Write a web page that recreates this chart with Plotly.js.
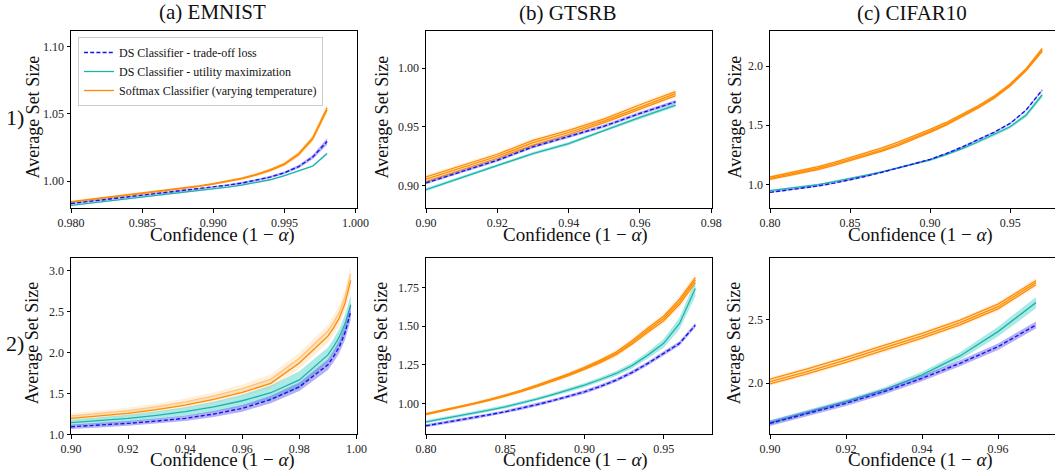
<!DOCTYPE html>
<html><head><meta charset="utf-8">
<script src="https://cdn.plot.ly/plotly-3.0.1.min.js"></script>
<style>html,body{margin:0;padding:0;background:#fff}</style>
</head><body><div id="chart" style="width:1055px;height:471px"></div>
<script>
// ---------- DATA ----------
const seriesNames = ["DS Classifier - trade-off loss", "DS Classifier - utility maximization", "Softmax Classifier (varying temperature)"];
const colTitles = ["(a) EMNIST", "(b) GTSRB", "(c) CIFAR10"];
const rowLabels = ["1)", "2)"];
const xLabel = "Confidence (1 − <i>α</i>)";
const yLabel = "Average Set Size";

// (a) EMNIST, row 1
const xA1 = [0.980,0.981,0.982,0.983,0.984,0.985,0.986,0.987,0.988,0.989,0.990,0.991,0.992,0.993,0.994,0.995,0.996,0.997,0.998];
const tlA1 = [0.9833,0.9845,0.9857,0.9869,0.9881,0.9893,0.9905,0.9918,0.9930,0.9942,0.9955,0.9970,0.9985,1.0005,1.0030,1.0062,1.0108,1.0180,1.0295];
const tlA1sd = [0.0006,0.0006,0.0006,0.0006,0.0006,0.0006,0.0006,0.0006,0.0007,0.0007,0.0007,0.0007,0.0008,0.0008,0.0009,0.0010,0.0012,0.0016,0.0024];
const umA1 = [0.9820,0.9832,0.9844,0.9856,0.9868,0.9880,0.9892,0.9904,0.9917,0.9930,0.9942,0.9955,0.9970,0.9988,1.0010,1.0040,1.0075,1.0112,1.0205];
const umA1sd = [0.0004,0.0004,0.0004,0.0004,0.0004,0.0004,0.0004,0.0004,0.0004,0.0004,0.0004,0.0005,0.0005,0.0005,0.0005,0.0006,0.0006,0.0007,0.0009];
const smA1a = [0.9848,0.9862,0.9875,0.9888,0.9900,0.9912,0.9925,0.9937,0.9950,0.9965,0.9982,1.0000,1.0022,1.0050,1.0085,1.0130,1.0205,1.0325,1.0545];
const smA1b = [0.9843,0.9857,0.9870,0.9883,0.9895,0.9907,0.9920,0.9932,0.9945,0.9960,0.9977,0.9994,1.0016,1.0044,1.0078,1.0122,1.0196,1.0314,1.0530];
const smA1sd = [0.0007,0.0007,0.0007,0.0007,0.0007,0.0007,0.0007,0.0007,0.0008,0.0008,0.0008,0.0009,0.0009,0.0010,0.0011,0.0013,0.0016,0.0021,0.0030];

// (b) GTSRB, row 1
const xB1 = [0.90,0.91,0.92,0.93,0.94,0.95,0.96,0.97];
const tlB1 = [0.9023,0.9118,0.9216,0.9330,0.9415,0.9506,0.9614,0.9713];
const tlB1sd = [0.0012,0.0012,0.0012,0.0013,0.0013,0.0013,0.0014,0.0015];
const umB1 = [0.8966,0.9070,0.9173,0.9273,0.9358,0.9472,0.9580,0.9685];
const umB1sd = [0.0013,0.0013,0.0013,0.0013,0.0014,0.0014,0.0015,0.0016];
const smB1a = [0.9074,0.9170,0.9267,0.9385,0.9470,0.9568,0.9688,0.9800];
const smB1b = [0.9055,0.9152,0.9250,0.9365,0.9452,0.9550,0.9668,0.9782];
const smB1c = [0.9036,0.9135,0.9233,0.9345,0.9435,0.9535,0.9650,0.9765];
const smB1sd = [0.0018,0.0018,0.0018,0.0018,0.0018,0.0018,0.0019,0.0020];

// (c) CIFAR10, row 1
const xC1 = [0.80,0.81,0.82,0.83,0.84,0.85,0.86,0.87,0.88,0.89,0.90,0.91,0.92,0.93,0.94,0.95,0.96,0.97];
const tlC1 = [0.932,0.948,0.966,0.986,1.010,1.037,1.068,1.102,1.138,1.174,1.211,1.260,1.315,1.378,1.440,1.515,1.628,1.797];
const tlC1sd = [0.006,0.006,0.006,0.006,0.006,0.006,0.006,0.006,0.006,0.006,0.006,0.006,0.007,0.007,0.007,0.007,0.008,0.009];
const umC1 = [0.946,0.962,0.978,0.998,1.022,1.048,1.076,1.106,1.140,1.172,1.206,1.252,1.302,1.360,1.420,1.487,1.586,1.755];
const umC1sd = [0.008,0.008,0.008,0.008,0.008,0.008,0.008,0.009,0.009,0.009,0.010,0.010,0.011,0.012,0.013,0.015,0.018,0.022];
const smC1a = [1.062,1.090,1.119,1.150,1.186,1.225,1.265,1.308,1.356,1.407,1.464,1.523,1.590,1.663,1.746,1.848,1.978,2.148];
const smC1b = [1.051,1.078,1.106,1.136,1.172,1.211,1.250,1.292,1.340,1.392,1.450,1.510,1.578,1.652,1.735,1.839,1.970,2.135];
const smC1c = [1.042,1.068,1.095,1.125,1.160,1.199,1.238,1.280,1.328,1.381,1.440,1.501,1.570,1.645,1.728,1.832,1.962,2.125];
const smC1sd = [0.010,0.010,0.010,0.010,0.010,0.010,0.010,0.011,0.011,0.011,0.011,0.012,0.012,0.012,0.013,0.013,0.014,0.015];

// (a) EMNIST, row 2
const xA2 = [0.90,0.91,0.92,0.93,0.94,0.95,0.96,0.97,0.98,0.99,0.992,0.994,0.996,0.998];
const tlA2 = [1.093,1.112,1.134,1.162,1.195,1.248,1.317,1.425,1.580,1.850,1.950,2.070,2.240,2.500];
const tlA2sd = [0.028,0.029,0.030,0.031,0.033,0.036,0.040,0.045,0.052,0.065,0.070,0.078,0.088,0.100];
const umA2 = [1.142,1.167,1.195,1.232,1.276,1.335,1.410,1.508,1.665,1.970,2.070,2.190,2.350,2.580];
const umA2sd = [0.035,0.040,0.045,0.050,0.056,0.064,0.074,0.088,0.105,0.090,0.095,0.100,0.110,0.120];
const smA2a = [1.195,1.224,1.256,1.302,1.357,1.428,1.512,1.622,1.872,2.200,2.300,2.420,2.600,2.880];
const smA2b = [1.225,1.256,1.290,1.338,1.396,1.470,1.558,1.675,1.930,2.260,2.365,2.490,2.680,2.960];
const smA2sd = [0.030,0.032,0.034,0.036,0.040,0.045,0.050,0.058,0.070,0.080,0.085,0.090,0.095,0.100];

// (b) GTSRB, row 2
const xB2 = [0.80,0.81,0.82,0.83,0.84,0.85,0.86,0.87,0.88,0.89,0.90,0.91,0.92,0.93,0.94,0.95,0.96,0.97];
const tlB2 = [0.855,0.872,0.890,0.908,0.927,0.946,0.968,0.992,1.018,1.046,1.075,1.110,1.151,1.200,1.259,1.324,1.389,1.507];
const tlB2sd = [0.010,0.010,0.010,0.010,0.010,0.010,0.011,0.011,0.011,0.011,0.012,0.012,0.012,0.013,0.013,0.014,0.014,0.015];
const umB2 = [0.881,0.899,0.918,0.937,0.957,0.978,1.002,1.028,1.057,1.087,1.119,1.155,1.194,1.245,1.313,1.389,1.518,1.745];
const umB2sd = [0.010,0.010,0.010,0.010,0.011,0.011,0.011,0.012,0.012,0.013,0.014,0.015,0.016,0.018,0.022,0.028,0.038,0.050];
const smB2a = [0.934,0.955,0.978,1.001,1.026,1.053,1.084,1.118,1.153,1.192,1.234,1.280,1.333,1.406,1.488,1.565,1.675,1.815];
const smB2b = [0.931,0.952,0.975,0.998,1.023,1.049,1.080,1.113,1.148,1.186,1.227,1.272,1.324,1.395,1.475,1.550,1.658,1.800];
const smB2c = [0.928,0.949,0.972,0.995,1.020,1.046,1.076,1.108,1.143,1.180,1.220,1.264,1.315,1.384,1.462,1.536,1.642,1.782];
const smB2sd = [0.008,0.008,0.008,0.009,0.009,0.009,0.010,0.010,0.011,0.011,0.012,0.013,0.014,0.015,0.017,0.019,0.022,0.026];

// (c) CIFAR10, row 2
const xC2 = [0.90,0.91,0.92,0.93,0.94,0.95,0.96,0.97];
const tlC2 = [1.684,1.762,1.842,1.934,2.039,2.158,2.289,2.461];
const tlC2sd = [0.022,0.022,0.022,0.022,0.023,0.024,0.026,0.028];
const umC2 = [1.689,1.770,1.855,1.947,2.066,2.216,2.408,2.637];
const umC2sd = [0.018,0.018,0.019,0.020,0.025,0.030,0.038,0.045];
const smC2a = [2.033,2.115,2.204,2.296,2.394,2.499,2.625,2.812];
const smC2b = [2.013,2.095,2.184,2.276,2.374,2.479,2.605,2.795];
const smC2c = [1.995,2.077,2.166,2.258,2.356,2.461,2.588,2.778];
const smC2sd = [0.015,0.015,0.015,0.016,0.016,0.017,0.018,0.020];

// ---------- STYLE / LAYOUT ----------
const W = 1055, H = 471;
const FONT = "Liberation Serif, Times New Roman, serif";
const C_TL = "#1414f0", C_UM = "#20b2aa", C_SM = "#ff8c00", C_SM_FAINT = "rgba(255,140,0,0.35)";
const F_TL = "rgba(90,80,230,0.45)", F_UM = "rgba(64,208,200,0.45)", F_SM = "rgba(255,140,0,0.14)";

const panels = [
  {x:xA1, tl:tlA1, tlsd:tlA1sd, um:umA1, umsd:umA1sd, sm:[smA1b, smA1a], smsd:smA1sd,
   xr:[0.980,1.0001], xt0:0.98, xdt:0.005, xf:".3f", yr:[0.980,1.1116], yt0:1.0, ydt:0.05, yf:".2f", px:[71,357], py:[31,208]},
  {x:xB1, tl:tlB1, tlsd:tlB1sd, um:umB1, umsd:umB1sd, sm:[smB1c, smB1b, smB1a], smsd:smB1sd,
   xr:[0.90,0.9802], xt0:0.90, xdt:0.02, xf:".2f", yr:[0.881,1.0315], yt0:0.90, ydt:0.05, yf:".2f", px:[426,712], py:[31,208]},
  {x:xC1, tl:tlC1, tlsd:tlC1sd, um:umC1, umsd:umC1sd, sm:[smC1c, smC1b, smC1a], smsd:smC1sd,
   xr:[0.80,0.978], xt0:0.80, xdt:0.05, xf:".2f", yr:[0.80,2.296], yt0:1.0, ydt:0.5, yf:".1f", px:[770,1055], py:[31,208], noRight:true},
  {x:xA2, tl:tlA2, tlsd:tlA2sd, um:umA2, umsd:umA2sd, sm:[smA2b, smA2a], smsd:smA2sd, faintFirst:true,
   xr:[0.90,1.0002], xt0:0.90, xdt:0.02, xf:".2f", yr:[1.0,3.158], yt0:1.0, ydt:0.5, yf:".1f", px:[71,357], py:[257.7,434.3]},
  {x:xB2, tl:tlB2, tlsd:tlB2sd, um:umB2, umsd:umB2sd, sm:[smB2c, smB2b, smB2a], smsd:smB2sd,
   xr:[0.80,0.9805], xt0:0.80, xdt:0.05, xf:".2f", yr:[0.80,1.944], yt0:1.0, ydt:0.25, yf:".2f", px:[426,712], py:[257.7,434.3]},
  {x:xC2, tl:tlC2, tlsd:tlC2sd, um:umC2, umsd:umC2sd, sm:[smC2c, smC2b, smC2a], smsd:smC2sd,
   xr:[0.90,0.975], xt0:0.90, xdt:0.02, xf:".2f", yr:[1.597,2.992], yt0:2.0, ydt:0.5, yf:".1f", px:[770,1055], py:[257.7,434.3], noRight:true}
];

function band(x, m, sd, color, xa, ya) {
  const up = m.map((v,i)=>v+sd[i]);
  const lo = m.map((v,i)=>v-sd[i]);
  return {x: x.concat(x.slice().reverse()), y: up.concat(lo.slice().reverse()),
    type:"scatter", mode:"lines", fill:"toself", fillcolor:color,
    line:{width:0, color:"rgba(0,0,0,0)"}, hoverinfo:"skip", showlegend:false, xaxis:xa, yaxis:ya};
}
function line(x, y, color, width, dash, xa, ya, name, show, rank) {
  return {x:x, y:y, type:"scatter", mode:"lines", line:{color:color, width:width, dash:dash},
    name:name, showlegend:show, legendrank:rank, xaxis:xa, yaxis:ya};
}

const traces = [];
const layout = {
  width:W, height:H, margin:{l:0,r:0,t:0,b:0}, paper_bgcolor:"#fff", plot_bgcolor:"#fff",
  font:{family:FONT, color:"#000"}, showlegend:true,
  legend:{x:78/W, y:1-37/H, xanchor:"left", yanchor:"top", bgcolor:"rgba(255,255,255,0.85)",
    bordercolor:"#cccccc", borderwidth:1, font:{family:FONT, size:12, color:"#111"}, tracegroupgap:0},
  annotations:[]
};

panels.forEach((p, i) => {
  const n = i===0 ? "" : String(i+1);
  const xa = "x"+n, ya = "y"+n;
  p.sm.forEach((s, k) => traces.push(band(p.x, s, p.smsd, F_SM, xa, ya)));
  p.sm.forEach((s, k) => {
    const faint = p.faintFirst && k === 0;
    traces.push(line(p.x, s, faint ? C_SM_FAINT : C_SM, 1.3, "solid", xa, ya, seriesNames[2], i===0 && k===p.sm.length-1, 3));
  });
  traces.push(band(p.x, p.um, p.umsd, F_UM, xa, ya));
  traces.push(line(p.x, p.um, C_UM, 1.3, "solid", xa, ya, seriesNames[1], i===0, 2));
  traces.push(band(p.x, p.tl, p.tlsd, F_TL, xa, ya));
  traces.push(line(p.x, p.tl, C_TL, 1.4, "4px,2.2px", xa, ya, seriesNames[0], i===0, 1));

  const common = {showline:true, linecolor:"#000", linewidth:1, ticks:"outside", ticklen:3.5, tickwidth:1,
    tickcolor:"#000", showgrid:false, zeroline:false, fixedrange:true,
    tickfont:{family:FONT, size:12, color:"#222"}, tickmode:"linear"};
  layout["xaxis"+n] = Object.assign({}, common, {domain:[p.px[0]/W, p.px[1]/W], anchor:ya,
    range:p.xr, tick0:p.xt0, dtick:p.xdt, tickformat:p.xf, mirror:true});
  layout["yaxis"+n] = Object.assign({}, common, {domain:[1-p.py[1]/H, 1-p.py[0]/H], anchor:xa,
    range:p.yr, tick0:p.yt0, dtick:p.ydt, tickformat:p.yf, mirror: p.noRight ? false : true});
});

function ann(text, px, py, size, angle) {
  layout.annotations.push({text:text, x:px/W, y:1-py/H, xref:"paper", yref:"paper",
    xanchor:"center", yanchor:"middle", showarrow:false, textangle:angle||0,
    font:{family:FONT, size:size, color:"#111"}});
}
// column titles
ann(colTitles[0], 212, 12.5, 21);
ann(colTitles[1], 567, 13, 21);
ann(colTitles[2], 912, 13, 21);
// row labels
ann(rowLabels[0], 14.5, 118, 22);
ann(rowLabels[1], 14.5, 343, 22);
// x axis titles
[[222.7,234.5],[575.8,234.5],[920,234.5],[222.7,460.2],[575.8,460.2],[920,460.2]].forEach(c => ann(xLabel, c[0], c[1], 19));
// y axis titles
[[32,117.5],[381,117.5],[734,117.5],[32,343.3],[381,343.3],[734,343.3]].forEach(c => ann(yLabel, c[0], c[1], 18, -90));

Plotly.newPlot("chart", traces, layout, {displayModeBar:false, staticPlot:true});
</script></body></html>
